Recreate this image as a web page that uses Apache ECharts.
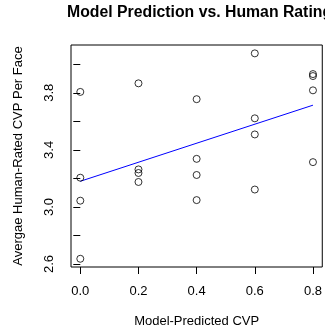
<!DOCTYPE html>
<html>
<head>
<meta charset="utf-8">
<script src="https://cdn.jsdelivr.net/npm/echarts@6/dist/echarts.min.js"></script>
<style>
html,body{margin:0;padding:0;background:#fff;}
#chart{width:325px;height:333px;}
</style>
</head>
<body>
<div id="chart"></div>
<script>
var predicted = [0, 0, 0, 0, 0.2, 0.2, 0.2, 0.2, 0.4, 0.4, 0.4, 0.4, 0.6, 0.6, 0.6, 0.6, 0.8, 0.8, 0.8, 0.8];
var rated = [3.806, 3.205, 3.044, 2.637, 3.866, 3.263, 3.238, 3.175, 3.755, 3.337, 3.224, 3.048, 4.076, 3.621, 3.508, 3.122, 3.931, 3.917, 3.817, 3.314];
var fitX = [0, 0.8];
var fitY = [3.18, 3.713];
var xTicks = [0, 0.2, 0.4, 0.6, 0.8];
var yTicks = [2.6, 2.8, 3.0, 3.2, 3.4, 3.6, 3.8, 4.0];
var yLabels = [2.6, 3.0, 3.4, 3.8];
var titleText = 'Model Prediction vs. Human Rating';
var xTitle = 'Model-Predicted CVP';
var yTitle = 'Avergae Human-Rated CVP Per Face';

var points = predicted.map(function (x, i) { return [x, rated[i]]; });
var fit = fitX.map(function (x, i) { return [x, fitY[i]]; });
var font = 'Liberation Sans, Arial, Helvetica, sans-serif';

var chart = echarts.init(document.getElementById('chart'), null, {renderer: 'canvas'});
chart.setOption({
  animation: false,
  backgroundColor: '#fff',
  title: {
    text: titleText,
    left: 67,
    top: 5,
    padding: 0,
    textStyle: {fontFamily: font, fontSize: 15.8, fontWeight: 'bold', color: '#000'}
  },
  grid: {
    left: 71, top: 45, width: 252, height: 224,
    show: true, borderColor: '#000', borderWidth: 1, backgroundColor: 'transparent'
  },
  xAxis: {
    type: 'value',
    min: -0.032, max: 0.832,
    name: xTitle,
    nameLocation: 'middle',
    nameGap: 48,
    nameTextStyle: {fontFamily: font, fontSize: 13, color: '#000'},
    axisLine: {show: false},
    splitLine: {show: false},
    axisTick: {show: true, inside: false, length: 7, lineStyle: {color: '#000', width: 1}, customValues: xTicks},
    axisLabel: {
      show: true, margin: 18, color: '#000', fontFamily: font, fontSize: 13,
      customValues: xTicks,
      formatter: function (v) { return v.toFixed(1); }
    }
  },
  yAxis: {
    type: 'value',
    min: 2.5794, max: 4.1346,
    name: yTitle,
    nameLocation: 'middle',
    nameGap: 46,
    nameTextStyle: {fontFamily: font, fontSize: 13, color: '#000'},
    axisLine: {show: false},
    splitLine: {show: false},
    axisTick: {show: true, inside: false, length: 7, lineStyle: {color: '#000', width: 1}, customValues: yTicks},
    axisLabel: {
      show: true, margin: 15, rotate: 90, color: '#000', fontFamily: font, fontSize: 13,
      customValues: yLabels,
      formatter: function (v) { return v.toFixed(1); }
    }
  },
  series: [
    {
      type: 'scatter',
      data: points,
      symbol: 'circle',
      symbolSize: 7,
      itemStyle: {color: 'rgba(0,0,0,0)', borderColor: '#000', borderWidth: 1},
      emphasis: {disabled: true},
      silent: true,
      z: 3
    },
    {
      type: 'line',
      data: fit,
      symbol: 'none',
      lineStyle: {color: '#0000ff', width: 1},
      emphasis: {disabled: true},
      silent: true,
      z: 2
    }
  ]
});
</script>
</body>
</html>
